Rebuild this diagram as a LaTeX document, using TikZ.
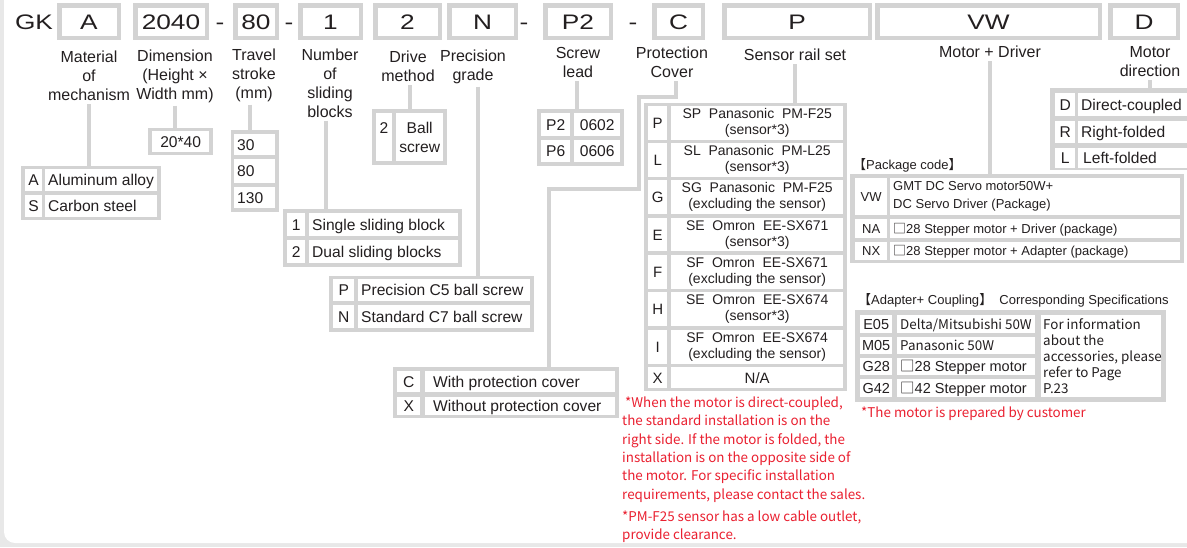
\documentclass[tikz,border=0pt]{standalone}
\usepackage{fontspec}
\setmainfont{Liberation Sans}
\newfontfamily\cjk{Noto Sans CJK SC}
\usetikzlibrary{calc}
\definecolor{pagegray}{RGB}{232,232,232}
\definecolor{bx}{RGB}{211,211,211}
\definecolor{ink}{RGB}{35,31,32}
\definecolor{notered}{RGB}{234,32,48}
\newcommand\wide[1]{\scalebox{1.25}[1]{#1}}
\newcommand\fs[2]{\fontsize{#1}{#2}\selectfont}
\newcommand\sq{{\cjk □}}
\newcommand\gbox[5]{\node[grp,minimum width={#4-#2},minimum height={#5-#3}] (#1) at (#2,#3) {};}
\newcommand\cbox[7][]{\node[cl,minimum width={#5-#3},minimum height={#6-#4},#1] (#2) at (#3,#4) {#7};}
\newcommand\lbox[7][]{\node[cl,minimum width={#5-#3},minimum height={#6-#4},#1] (#2) at (#3,#4) {\hbox to \dimexpr #5pt-#3pt-6pt\relax{#7\hfil}};}
\tikzset{
  every node/.append style={text=ink},
  topbox/.style={draw=bx, line width=4.5pt, fill=white, inner sep=0pt, minimum height=32.5pt,
    font=\fs{21}{21}, text height=15pt, text depth=0pt},
  dashsign/.style={inner sep=0pt, font=\fs{21}{21}, text height=15pt, text depth=0pt},
  lab/.style={align=center, inner sep=0pt, font=\fs{16}{19}},
  conn/.style={draw=bx, line width=4pt},
  grp/.style={fill=bx, inner sep=0pt, anchor=north west},
  cl/.style={fill=white, inner sep=0pt, anchor=north west},
  f16/.style={font=\fs{15.6}{19}},
  c16/.style={f16, text height=11.2pt, text depth=0pt},
  f14/.style={font=\fs{14}{16}},
  c15/.style={font=\fs{15}{17}, text height=10.8pt, text depth=0pt},
  f13/.style={font=\fs{13}{18}},
  c13/.style={f13, text height=9.3pt, text depth=0pt},
  c14/.style={font=\fs{14.5}{16}, text height=10.4pt, text depth=0pt},
  cj14/.style={font=\cjk\fs{13.4}{16}, text height=9.6pt, text depth=0pt},
  note/.style={font=\cjk\fs{13.4}{18.4}, text=notered, align=left, inner sep=0pt, anchor=north west},
}
\begin{document}
\begin{tikzpicture}[x=1pt,y=-1pt]
\useasboundingbox (0,0) rectangle (1187,547);
\fill[pagegray] (0,0) rectangle (1187,547);
\fill[white, rounded corners=11pt] (4,-20) rectangle (1210,543);

% ---------- code row ----------
\node[dashsign] (gk) at (34,21.5) {\wide{GK}};
\node[topbox, minimum width=59.5pt] (kA) at (89,21.5) {\wide{A}};
\node[topbox, minimum width=71.5pt] (k2040) at (171,21.5) {\wide{2040}};
\node[dashsign] (s1) at (220,21.5) {\wide{-}};
\node[topbox, minimum width=41.5pt] (k80) at (256,21.5) {\wide{80}};
\node[dashsign] (s2) at (289,21.5) {\wide{-}};
\node[topbox, minimum width=60.5pt] (k1) at (330.5,21.5) {\wide{1}};
\node[topbox, minimum width=64.5pt] (k2) at (407.5,21.5) {\wide{2}};
\node[topbox, minimum width=66.5pt] (kN) at (482.5,21.5) {\wide{N}};
\node[dashsign] (s3) at (524,21.5) {\wide{-}};
\node[topbox, minimum width=65.5pt] (kP2) at (578,21.5) {\wide{P2}};
\node[dashsign] (s4) at (633,21.5) {\wide{-}};
\node[topbox, minimum width=48.5pt] (kC) at (678.5,21.5) {\wide{C}};
\node[topbox, minimum width=145.5pt] (kP) at (797,21.5) {\wide{P}};
\node[topbox, minimum width=222.5pt] (kVW) at (988.5,21.5) {\wide{VW}};
\node[topbox, minimum width=67.5pt] (kD) at (1144,21.5) {\wide{D}};

% ---------- labels ----------
\node[lab] (lMat) at (89,76) {Material\\of\\mechanism};
\node[lab] (lDim) at (175,76) {Dimension\\(Height ×\\Width mm)};
\node[lab] (lTra) at (254,75) {Travel\\stroke\\(mm)};
\node[lab] (lNum) at (330,83) {Number\\of\\sliding\\blocks};
\node[lab] (lDri) at (408,66.5) {Drive\\method};
\node[lab] (lPre) at (473,66.5) {Precision\\grade};
\node[lab] (lScr) at (578,62.5) {Screw\\lead};
\node[lab] (lCov) at (672,62.5) {Protection\\Cover};
\node[lab] (lSen) at (795,55) {Sensor rail set};
\node[lab] (lMot) at (990,52) {Motor + Driver};
\node[lab] (lDir) at (1150,61.5) {Motor\\direction};

% ---------- material ----------
\gbox{tA}{21}{166}{161}{220}
\cbox[c16]{tA1}{25}{169}{42}{191}{A}
\lbox[c16]{tA1t}{45}{169}{157}{191}{Aluminum alloy}
\cbox[c16]{tA2}{25}{195}{42}{217}{S}
\lbox[c16]{tA2t}{45}{195}{157}{217}{Carbon steel}

% ---------- dimension ----------
\gbox{tD}{148}{128}{213}{155}
\cbox[c16]{tD1}{152}{131}{209}{152}{20*40}

% ---------- travel ----------
\gbox{tT}{231}{130}{279}{212}
\lbox[c16]{tT1}{234}{134}{275}{155}{30}
\lbox[c16]{tT2}{234}{159}{275}{183}{80}
\lbox[c16]{tT3}{234}{187}{275}{208}{130}

% ---------- sliding blocks ----------
\gbox{tN}{283}{209}{462}{267}
\cbox[c16]{tN1}{287}{213}{305}{236}{1}
\lbox[c16]{tN1t}{309}{213}{458}{236}{Single sliding block}
\cbox[c16]{tN2}{287}{240}{305}{263}{2}
\lbox[c16]{tN2t}{309}{240}{458}{263}{Dual sliding blocks}

% ---------- drive ----------
\gbox{tDr}{372}{109}{447}{165}
\cbox{tDr1}{376}{113}{392}{161}{}
\node[c16, inner sep=0pt] (tDr1x) at (384,128) {2};
\cbox[f16,align=center]{tDr2}{396}{113}{443}{161}{Ball\\screw}

% ---------- precision ----------
\gbox{tPr}{329}{276}{534}{332}
\cbox[c16]{tPr1}{333}{279}{354}{301}{P}
\lbox[c16]{tPr1t}{358}{279}{530}{301}{Precision C5 ball screw}
\cbox[c16]{tPr2}{333}{305}{354}{328}{N}
\lbox[c16]{tPr2t}{358}{305}{530}{328}{Standard C7 ball screw}

% ---------- lead ----------
\gbox{tL}{537}{109}{624}{166}
\cbox[c16]{tL1}{541}{113}{570}{136}{P2}
\cbox[c16]{tL1t}{574}{113}{620}{136}{0602}
\cbox[c16]{tL2}{541}{140}{570}{162}{P6}
\cbox[c16]{tL2t}{574}{140}{620}{162}{0606}

% ---------- cover ----------
\gbox{tC}{393}{367}{619}{418}
\cbox[c16]{tC1}{397}{371}{420}{392}{C}
\lbox[c16]{tC1t}{425}{371}{615}{392}{\hspace{5pt}With protection cover}
\cbox[c16]{tC2}{397}{397}{420}{415}{X}
\lbox[c16]{tC2t}{425}{397}{615}{415}{\hspace{5pt}Without protection cover}

% ---------- sensor ----------
\gbox{tS}{644}{103}{847}{391}
\cbox[c15]{tS1}{648}{106}{667}{140}{P}
\cbox[f14,align=center]{tS1t}{671}{106}{843}{140}{SP\ \ Panasonic\ \ PM-F25\\(sensor*3)}
\cbox[c15]{tS2}{648}{143}{667}{177}{L}
\cbox[f14,align=center]{tS2t}{671}{143}{843}{177}{SL\ \ Panasonic\ \ PM-L25\\(sensor*3)}
\cbox[c15]{tS3}{648}{180}{667}{214}{G}
\cbox[f14,align=center]{tS3t}{671}{180}{843}{214}{SG\ \ Panasonic\ \ PM-F25\\(excluding the sensor)}
\cbox[c15]{tS4}{648}{218}{667}{251}{E}
\cbox[f14,align=center]{tS4t}{671}{218}{843}{251}{SE\ \ Omron\ \ EE-SX671\\(sensor*3)}
\cbox[c15]{tS5}{648}{255}{667}{289}{F}
\cbox[f14,align=center]{tS5t}{671}{255}{843}{289}{SF\ \ Omron\ \ EE-SX671\\(excluding the sensor)}
\cbox[c15]{tS6}{648}{292}{667}{326}{H}
\cbox[f14,align=center]{tS6t}{671}{292}{843}{326}{SE\ \ Omron\ \ EE-SX674\\(sensor*3)}
\cbox[c15]{tS7}{648}{330}{667}{364}{I}
\cbox[f14,align=center]{tS7t}{671}{330}{843}{364}{SF\ \ Omron\ \ EE-SX674\\(excluding the sensor)}
\cbox[c15]{tS8}{648}{367}{667}{388}{X}
\cbox[c15]{tS8t}{671}{367}{843}{388}{N/A}

% ---------- package ----------
\node[c13, anchor=west, inner sep=0pt] (pkgT) at (853,165) {{\cjk 【}Package code{\cjk 】}};
\gbox{tP}{850}{174}{1184}{263}
\cbox[c13]{tP1}{855}{178}{887}{215}{VW}
\cbox{tP1t}{890}{178}{1180}{215}{}
\node[f13, align=left, anchor=west, inner sep=0pt] (tP1x) at ([xshift=3pt]tP1t.west) {GMT DC Servo motor50W+\\DC Servo Driver (Package)};
\cbox[c13]{tP2}{855}{219}{887}{238}{NA}
\lbox[c13]{tP2t}{890}{219}{1180}{238}{\sq 28 Stepper motor + Driver (package)}
\cbox[c13]{tP3}{855}{242}{887}{260}{NX}
\lbox[c13]{tP3t}{890}{242}{1180}{260}{\sq 28 Stepper motor + Adapter (package)}

% ---------- direction ----------
\gbox{tR}{1050}{88}{1194}{170}
\cbox[c16]{tR1}{1055}{93}{1075}{116}{D}
\lbox[c16]{tR1t}{1078}{93}{1192}{116}{Direct-coupled}
\cbox[c16]{tR2}{1055}{121}{1075}{143}{R}
\lbox[c16]{tR2t}{1078}{121}{1192}{143}{Right-folded}
\cbox[c16]{tR3}{1055}{148}{1075}{168}{L}
\lbox[c16]{tR3t}{1078}{148}{1192}{168}{\hspace{2pt}Left-folded}

% ---------- adapter ----------
\node[c13, anchor=west, inner sep=0pt] (adT) at (858,300) {{\cjk 【}Adapter+ Coupling{\cjk 】}\ \ Corresponding Specifications};
\gbox{tAd}{855}{310}{1166}{402}
\cbox[c14]{tAd1}{860}{315}{892}{333}{E05}
\lbox[cj14]{tAd1t}{897}{315}{1035}{333}{Delta/Mitsubishi 50W}
\cbox[c14]{tAd2}{860}{337}{892}{354}{M05}
\lbox[cj14]{tAd2t}{897}{337}{1035}{354}{Panasonic 50W}
\cbox[c14]{tAd3}{860}{358}{892}{375}{G28}
\lbox[c14]{tAd3t}{897}{358}{1035}{375}{\sq 28 Stepper motor}
\cbox[c14]{tAd4}{860}{379}{892}{397}{G42}
\lbox[c14]{tAd4t}{897}{379}{1035}{397}{\sq 42 Stepper motor}
\cbox{tAd5}{1041}{315}{1161}{397}{}
\node[font=\cjk\fs{13.4}{16}, align=left, anchor=west, inner sep=0pt] (tAd5x) at ([xshift=2pt]tAd5.west) {For information\\about the\\accessories, please\\refer to Page\\P.23};

% ---------- notes ----------
\node[note] (n1) at (622,396.5) {\hspace{3pt}*When the motor is direct-coupled,\\the standard installation is on the\\right side. If the motor is folded, the\\installation is on the opposite side of\\the motor. For specific installation\\requirements, please contact the sales.};
\node[note] (n2) at (622,510.5) {*PM-F25 sensor has a low cable outlet,\\provide clearance.};
\node[note] (n3) at (861,406.5) {*The motor is prepared by customer};

% ---------- connectors ----------
\coordinate (pcA) at (639,97);
\coordinate (pcB) at (549,189);
\draw[conn] ([yshift=-3pt]lMat.south) -- (lMat.south |- tA.north);
\draw[conn] ([yshift=-3pt]lDim.south) -- (lDim.south |- tD.north);
\draw[conn] ([xshift=-4pt,yshift=-3pt]lTra.south) -- ([xshift=-4pt]lTra.south |- tT.north);
\draw[conn] ([xshift=-4pt,yshift=-3pt]lNum.south) -- ([xshift=-4pt]lNum.south |- tN.north);
\draw[conn] ([xshift=1.5pt,yshift=-3pt]lDri.south) -- ([xshift=1.5pt]lDri.south |- tDr.north);
\draw[conn] ([xshift=5pt,yshift=-3pt]lPre.south) -- ([xshift=5pt]lPre.south |- tPr.north);
\draw[conn] ([xshift=-1pt,yshift=-3pt]lScr.south) -- ([xshift=-1pt]lScr.south |- tL.north);
\draw[conn] ([xshift=4pt,yshift=-3pt]lCov.south) |- (pcA) |- (pcB) -- (pcB |- tC.north);
\draw[conn] ([yshift=-3pt]lSen.south) -- (lSen.south |- tS.north);
\draw[conn] ([yshift=-3pt]lMot.south) -- (lMot.south |- tP.north);
\draw[conn] ([yshift=-3pt]lDir.south) -- (lDir.south |- tR.north);
\end{tikzpicture}
\end{document}
